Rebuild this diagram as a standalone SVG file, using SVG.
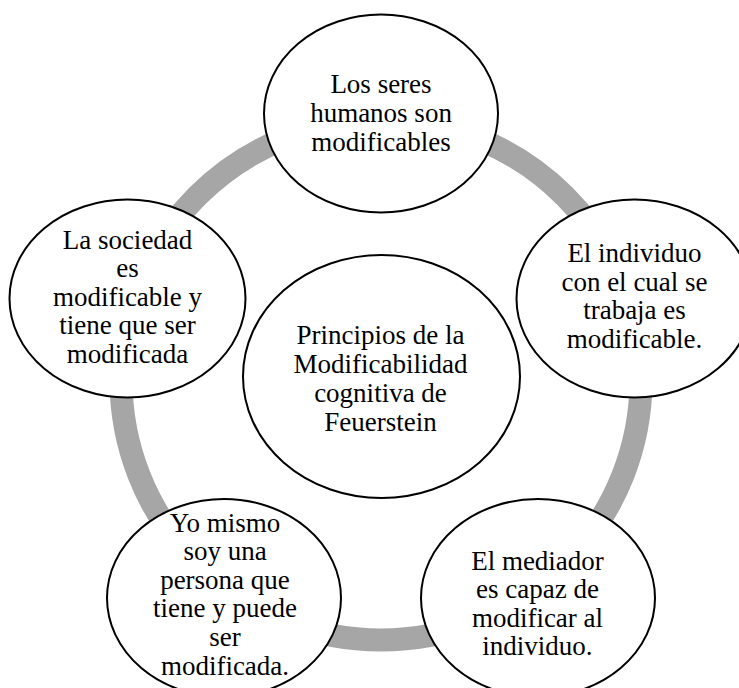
<svg xmlns="http://www.w3.org/2000/svg" width="739" height="688" viewBox="0 0 739 688">
<style>
.node{fill:#fff;stroke:#000;stroke-width:2}
.t{font-size:27px;fill:#000;text-anchor:middle}
</style>
<rect width="739" height="688" fill="#fff"/>
<g id="connectors">
<circle cx="381" cy="380" r="260" fill="none" stroke="#a6a6a6" stroke-width="23"/>
</g>
<g id="center">
<ellipse class="node" cx="381.5" cy="376.5" rx="138.5" ry="121.5"/>
<text class="t" font-family="'Liberation Serif', 'Times New Roman', serif"><tspan x="380.5" y="344">Principios de la</tspan><tspan x="380.5" y="373">Modificabilidad</tspan><tspan x="380.5" y="402">cognitiva de</tspan><tspan x="380.5" y="431">Feuerstein</tspan></text>
</g>
<g id="top">
<ellipse class="node" cx="381" cy="113.5" rx="117" ry="99"/>
<text class="t" font-family="'Liberation Serif', 'Times New Roman', serif"><tspan x="381" y="93">Los seres</tspan><tspan x="381" y="122">humanos son</tspan><tspan x="381" y="151">modificables</tspan></text>
</g>
<g id="right">
<ellipse class="node" cx="634.5" cy="298.5" rx="118" ry="99"/>
<text class="t" font-family="'Liberation Serif', 'Times New Roman', serif"><tspan x="634.5" y="262">El individuo</tspan><tspan x="634.5" y="291">con el cual se</tspan><tspan x="634.5" y="319">trabaja es</tspan><tspan x="634.5" y="348">modificable.</tspan></text>
</g>
<g id="bottom-right">
<ellipse class="node" cx="538" cy="598" rx="117" ry="99"/>
<text class="t" font-family="'Liberation Serif', 'Times New Roman', serif"><tspan x="537.5" y="570">El mediador</tspan><tspan x="537.5" y="598">es capaz de</tspan><tspan x="537.5" y="627">modificar al</tspan><tspan x="537.5" y="655">individuo.</tspan></text>
</g>
<g id="bottom-left">
<ellipse class="node" cx="224" cy="598" rx="117" ry="99"/>
<text class="t" font-family="'Liberation Serif', 'Times New Roman', serif"><tspan x="225" y="532">Yo mismo</tspan><tspan x="225" y="560">soy una</tspan><tspan x="225" y="589">persona que</tspan><tspan x="225" y="617">tiene y puede</tspan><tspan x="225" y="646">ser</tspan><tspan x="225" y="675">modificada.</tspan></text>
</g>
<g id="left">
<ellipse class="node" cx="127.5" cy="298.5" rx="118" ry="99"/>
<text class="t" font-family="'Liberation Serif', 'Times New Roman', serif"><tspan x="127.5" y="249">La sociedad</tspan><tspan x="127.5" y="277">es</tspan><tspan x="127.5" y="306">modificable y</tspan><tspan x="127.5" y="334">tiene que ser</tspan><tspan x="127.5" y="363">modificada</tspan></text>
</g>
</svg>
